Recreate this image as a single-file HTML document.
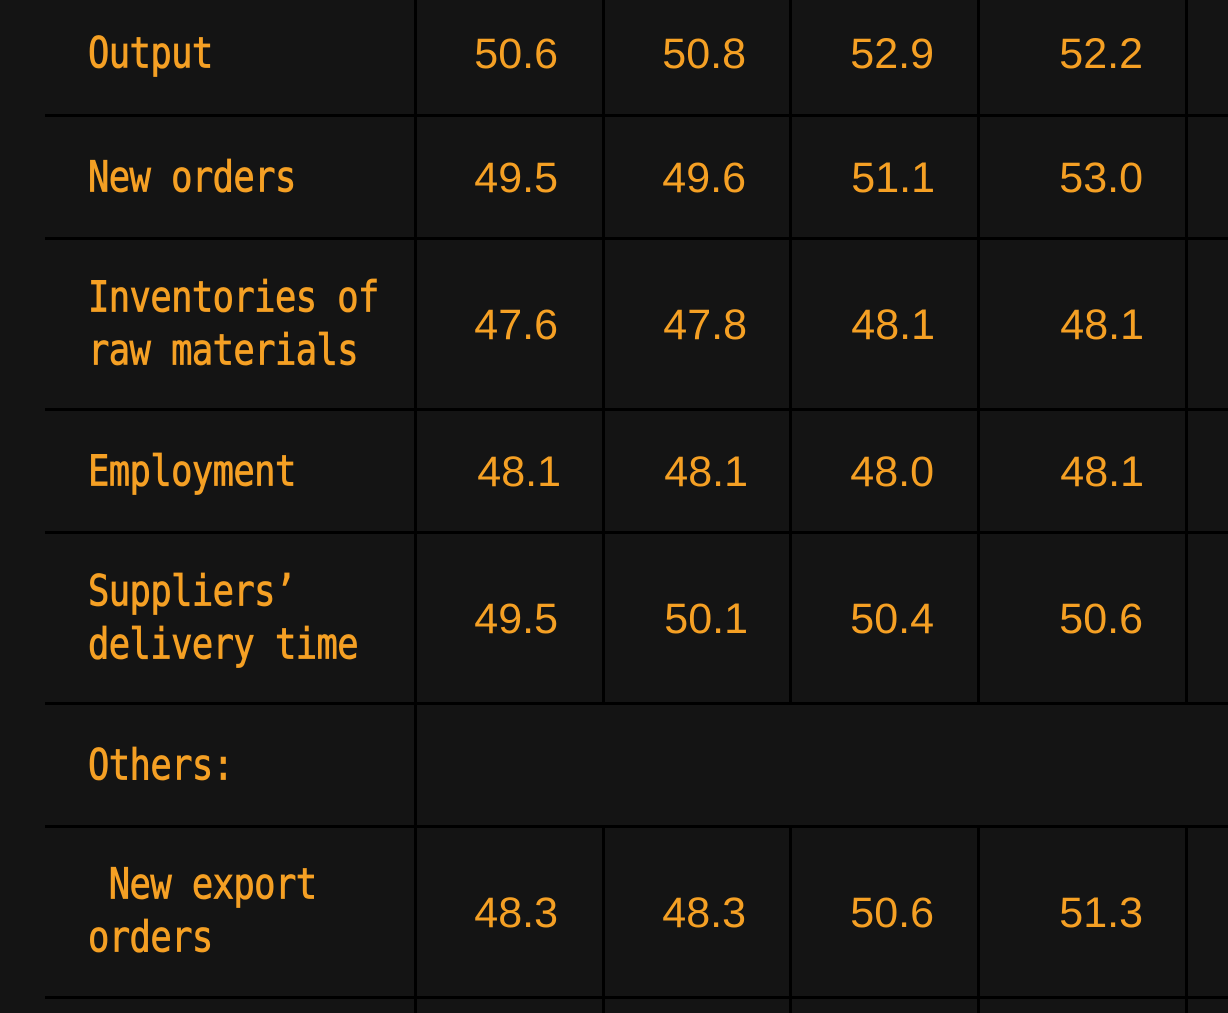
<!DOCTYPE html>
<html><head><style>
html,body{margin:0;padding:0;background:#141414;width:1228px;height:1013px;overflow:hidden;position:relative;font-family:"Liberation Sans",sans-serif;color:#f5a024}
.h{position:absolute;left:45px;right:0;height:3px;background:#000}
.v{position:absolute;width:3px;background:#000}
.t{position:absolute;font-family:"DejaVu Sans Mono",monospace;font-size:35.5px;line-height:44.2px;white-space:nowrap;transform:scaleY(1.2);transform-origin:0 0;letter-spacing:-0.6px;-webkit-text-stroke:0.7px #f5a024}
.n{position:absolute;font-size:43px;line-height:53px;white-space:nowrap;text-align:right;width:150px}
</style></head><body>
<div class="h" style="top:114px"></div>
<div class="h" style="top:237px"></div>
<div class="h" style="top:408px"></div>
<div class="h" style="top:531px"></div>
<div class="h" style="top:702px"></div>
<div class="h" style="top:825px"></div>
<div class="h" style="top:996px"></div>
<div class="v" style="left:414px;top:0;height:1013px"></div>
<div class="v" style="left:602px;top:0;height:704px"></div>
<div class="v" style="left:602px;top:826px;height:187px"></div>
<div class="v" style="left:789px;top:0;height:704px"></div>
<div class="v" style="left:789px;top:826px;height:187px"></div>
<div class="v" style="left:977px;top:0;height:704px"></div>
<div class="v" style="left:977px;top:826px;height:187px"></div>
<div class="v" style="left:1185px;top:0;height:704px"></div>
<div class="v" style="left:1185px;top:826px;height:187px"></div>

<div class="t" style="left:88px;top:28px">Output</div>
<div class="t" style="left:88px;top:152px">New orders</div>
<div class="t" style="left:88px;top:272px">Inventories of<br>raw materials</div>
<div class="t" style="left:88px;top:446px">Employment</div>
<div class="t" style="left:88px;top:566px">Suppliers’<br>delivery time</div>
<div class="t" style="left:88px;top:740px">Others:</div>
<div class="t" style="left:88px;top:859px">&nbsp;New export<br>orders</div>

<div class="n" style="left:408px;top:28px">50.6</div>
<div class="n" style="left:596px;top:28px">50.8</div>
<div class="n" style="left:784px;top:28px">52.9</div>
<div class="n" style="left:993px;top:28px">52.2</div>

<div class="n" style="left:408px;top:152px">49.5</div>
<div class="n" style="left:596px;top:152px">49.6</div>
<div class="n" style="left:785px;top:152px">51.1</div>
<div class="n" style="left:993px;top:152px">53.0</div>

<div class="n" style="left:408px;top:299px">47.6</div>
<div class="n" style="left:597px;top:299px">47.8</div>
<div class="n" style="left:785px;top:299px">48.1</div>
<div class="n" style="left:994px;top:299px">48.1</div>

<div class="n" style="left:411px;top:446px">48.1</div>
<div class="n" style="left:598px;top:446px">48.1</div>
<div class="n" style="left:784px;top:446px">48.0</div>
<div class="n" style="left:994px;top:446px">48.1</div>

<div class="n" style="left:408px;top:593px">49.5</div>
<div class="n" style="left:598px;top:593px">50.1</div>
<div class="n" style="left:784px;top:593px">50.4</div>
<div class="n" style="left:993px;top:593px">50.6</div>

<div class="n" style="left:408px;top:887px">48.3</div>
<div class="n" style="left:596px;top:887px">48.3</div>
<div class="n" style="left:784px;top:887px">50.6</div>
<div class="n" style="left:993px;top:887px">51.3</div>
</body></html>
